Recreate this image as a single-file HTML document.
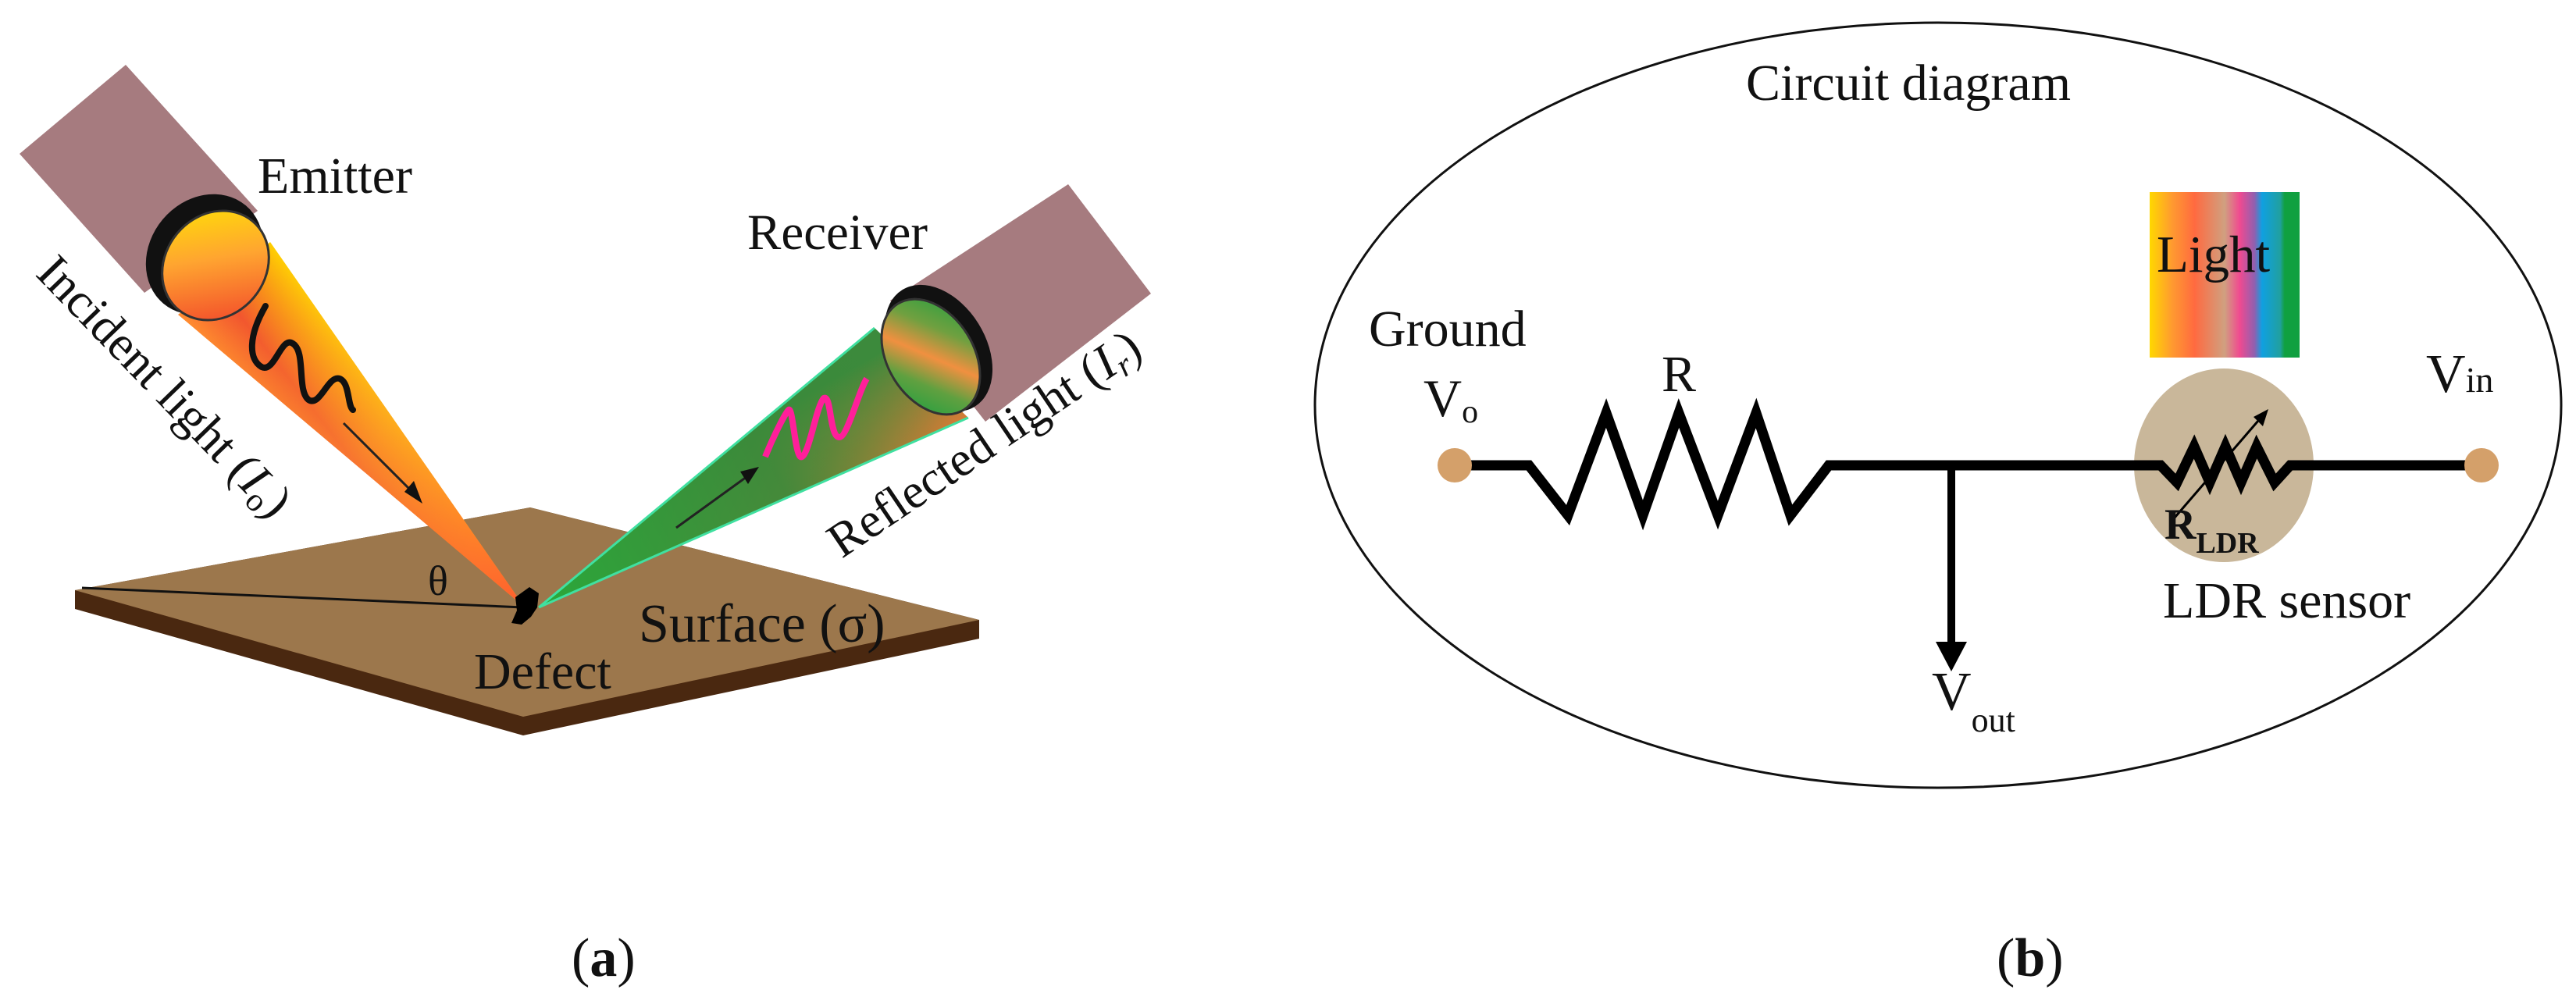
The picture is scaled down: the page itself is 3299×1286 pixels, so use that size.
<!DOCTYPE html>
<html><head><meta charset="utf-8"><style>
html,body{margin:0;padding:0;background:#fff;width:3299px;height:1286px;overflow:hidden}
svg{display:block}
text{font-family:"Liberation Serif",serif;fill:#111}
</style></head><body>
<svg width="3299" height="1286" viewBox="0 0 3299 1286" xmlns="http://www.w3.org/2000/svg">
<defs>
<linearGradient id="lensE" x1="1" y1="0" x2="0" y2="1">
<stop offset="0" stop-color="#ffe800"/><stop offset="0.45" stop-color="#ffa530"/><stop offset="1" stop-color="#f03a2a"/></linearGradient>
<linearGradient id="beamE" x1="230" y1="400" x2="346" y2="310" gradientUnits="userSpaceOnUse">
<stop offset="0" stop-color="#ff8a30"/><stop offset="0.4" stop-color="#f04a30"/><stop offset="1" stop-color="#ffd000"/></linearGradient>
<linearGradient id="beamE2" x1="280" y1="350" x2="670" y2="778" gradientUnits="userSpaceOnUse">
<stop offset="0" stop-color="#ffc020" stop-opacity="0"/><stop offset="0.5" stop-color="#ffa030" stop-opacity="0.5"/><stop offset="1" stop-color="#ff5a30" stop-opacity="0.95"/></linearGradient>
<linearGradient id="beamR" x1="1180" y1="420" x2="1250" y2="540" gradientUnits="userSpaceOnUse">
<stop offset="0" stop-color="#3c8a3c"/><stop offset="1" stop-color="#e07a35"/></linearGradient>
<linearGradient id="beamR2" x1="690" y1="778" x2="1180" y2="470" gradientUnits="userSpaceOnUse">
<stop offset="0" stop-color="#2aa83a"/><stop offset="0.6" stop-color="#3a8a3a" stop-opacity="0.9"/><stop offset="1" stop-color="#3a8a3a" stop-opacity="0"/></linearGradient>
<linearGradient id="lensR" x1="0" y1="0" x2="1" y2="1">
<stop offset="0" stop-color="#1aa040"/><stop offset="0.3" stop-color="#70a040"/><stop offset="0.5" stop-color="#f09040"/><stop offset="0.7" stop-color="#60a040"/><stop offset="1" stop-color="#10a040"/></linearGradient>
<linearGradient id="spec" x1="0" y1="0" x2="1" y2="0">
<stop offset="0" stop-color="#ffd800"/><stop offset="0.15" stop-color="#ff9a30"/><stop offset="0.3" stop-color="#ff6a40"/><stop offset="0.5" stop-color="#d0a080"/><stop offset="0.6" stop-color="#f04a90"/><stop offset="0.7" stop-color="#9060b0"/><stop offset="0.75" stop-color="#10a0e0"/><stop offset="0.87" stop-color="#20a0a0"/><stop offset="0.9" stop-color="#10a040"/><stop offset="1" stop-color="#10a040"/></linearGradient>
</defs>

<!-- plate -->
<polygon points="96,756 679,650 1254,794 1254,818 670,942 96,780" fill="#4a2810"/>
<polygon points="96,756 679,650 1254,794 670,918" fill="#9c774c"/>
<line x1="105" y1="753" x2="670" y2="778" stroke="#111" stroke-width="3"/>

<!-- emitter tube -->
<polygon points="25,197 161,83 330,270 185,375" fill="#a67b7f"/>
<!-- incident beam -->
<polygon points="228,403 346,310 672,778" fill="url(#beamE)"/>
<polygon points="228,403 346,310 672,778" fill="url(#beamE2)"/>
<ellipse cx="262" cy="326" rx="82" ry="70" transform="rotate(-50 262 326)" fill="#111"/>
<ellipse cx="276" cy="340" rx="74" ry="64" transform="rotate(-50 276 340)" fill="url(#lensE)" stroke="#333" stroke-width="3"/>
<path d="M340,392 C318,430 318,460 335,470 C352,478 360,430 375,440 C392,450 380,500 395,512 C410,522 420,480 435,485 C448,490 445,520 452,525" fill="none" stroke="#111" stroke-width="8" stroke-linecap="round"/>
<line x1="440" y1="542" x2="530" y2="632" stroke="#222" stroke-width="3"/>
<polygon points="541,645 518,630 530,616" fill="#111"/>

<!-- receiver tube -->
<polygon points="1368,236 1474,376 1262,540 1140,385" fill="#a67b7f"/>
<polygon points="1120,420 1240,535 690,778" fill="url(#beamR)"/>
<polygon points="1120,420 1240,535 690,778" fill="url(#beamR2)"/>
<line x1="1120" y1="420" x2="690" y2="778" stroke="#40e0a0" stroke-width="3"/>
<line x1="1240" y1="535" x2="690" y2="778" stroke="#40e0a0" stroke-width="3"/>
<ellipse cx="1202" cy="446" rx="88" ry="60" transform="rotate(58 1202 446)" fill="#111"/>
<ellipse cx="1192" cy="457" rx="80" ry="55" transform="rotate(58 1192 457)" fill="url(#lensR)" stroke="#333" stroke-width="3"/>
<path d="M980,585 C990,560 1005,530 1010,525 C1015,520 1018,580 1025,585 C1035,590 1045,520 1055,510 C1065,505 1062,560 1075,560 C1085,560 1100,500 1110,485" fill="none" stroke="#ff1f9a" stroke-width="8"/>
<line x1="866" y1="676" x2="960" y2="608" stroke="#222" stroke-width="3"/>
<polygon points="972,598 958,620 948,604" fill="#111"/>

<!-- defect -->
<path d="M660,765 L678,752 L690,760 L688,778 L680,790 L668,800 L655,798 L662,782 Z" fill="#000"/>

<text x="330" y="247" font-size="66">Emitter</text>
<text x="957" y="319" font-size="65">Receiver</text>
<text x="548" y="762" font-size="54">θ</text>
<text x="818" y="822" font-size="70">Surface (σ)</text>
<text x="607" y="882" font-size="66">Defect</text>
<text transform="translate(44,352) rotate(46)" font-size="63">Incident light (<tspan font-style="italic">I</tspan><tspan font-size="42" dy="10">o</tspan><tspan dy="-10">)</tspan></text>
<text transform="translate(1078,716) rotate(-34)" font-size="63">Reflected light (<tspan font-style="italic">I</tspan><tspan font-size="42" font-style="italic" dy="10">r</tspan><tspan dy="-10">)</tspan></text>

<!-- right panel -->
<ellipse cx="2482" cy="519" rx="798" ry="490" fill="none" stroke="#111" stroke-width="3"/>
<text x="2236" y="128" font-size="66">Circuit diagram</text>
<rect x="2753" y="246" width="192" height="212" fill="url(#spec)"/>
<text x="2762" y="348" font-size="67">Light</text>
<text x="1753" y="443" font-size="66">Ground</text>
<text x="2128" y="501" font-size="66">R</text>
<text x="1823" y="533" font-size="68">V<tspan font-size="42" dy="8">o</tspan></text>
<text x="3107" y="502" font-size="70">V<tspan font-size="46">in</tspan></text>
<ellipse cx="2848" cy="596" rx="115" ry="124" fill="#c9b79a"/>
<polyline points="1863,596 1958,596 2008,660 2057,529 2104,660 2150,529 2200,660 2249,529 2293,660 2342,596 2767,596 2788,618 2810,572 2830,618 2850,572 2870,618 2890,572 2913,618 2933,596 3178,596" fill="none" stroke="#000" stroke-width="13" stroke-linejoin="miter"/>
<line x1="2499" y1="596" x2="2499" y2="830" stroke="#000" stroke-width="10"/>
<polygon points="2479,822 2519,822 2499,860" fill="#000"/>
<circle cx="1863" cy="596" r="22" fill="#d4a06a"/>
<circle cx="3178" cy="596" r="22" fill="#d4a06a"/>
<line x1="2785" y1="663" x2="2898" y2="532" stroke="#000" stroke-width="3"/>
<polygon points="2905,524 2886,534 2898,546" fill="#000"/>
<text x="2772" y="690" font-size="56" font-weight="bold">R<tspan font-size="38" dy="18">LDR</tspan></text>
<text x="2770" y="791" font-size="66">LDR sensor</text>
<text x="2474" y="909" font-size="70">V<tspan font-size="44" dy="28">out</tspan></text>

<text x="732" y="1250" font-size="70">(<tspan font-weight="bold">a</tspan>)</text>
<text x="2557" y="1250" font-size="70">(<tspan font-weight="bold">b</tspan>)</text>
</svg>
</body></html>
